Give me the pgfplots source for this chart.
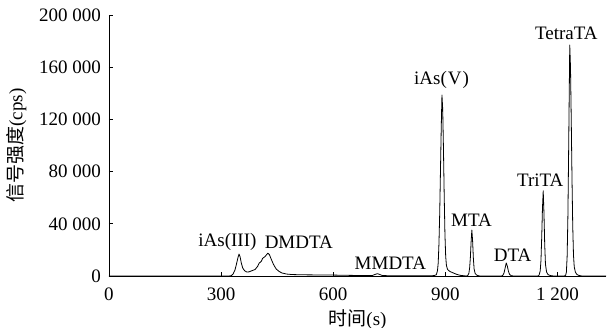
\documentclass[border=0pt]{standalone}
\usepackage{fontspec}
\setmainfont{Liberation Serif}
\newfontfamily\cjk{Noto Sans CJK SC}
\usepackage{pgfplots}
\pgfplotsset{compat=1.18}
\begin{document}
\fontsize{19}{22}\selectfont
\begin{tikzpicture}
\begin{axis}[
  name=ax, scale only axis, width=497pt, height=261pt,
  xmin=0, xmax=1330, ymin=0, ymax=200000,
  axis x line*=bottom, axis y line*=left,
  tick align=inside, major tick length=4pt,
  xtick={0,300,600,900,1200},
  xticklabels={0,300,600,900,1\ 200},
  ytick={0,40000,80000,120000,160000,200000},
  yticklabels={0,40\ 000,80\ 000,120\ 000,160\ 000,200\ 000},
  xticklabel style={yshift=-5pt},
  yticklabel style={xshift=-1.5pt},
  xlabel style={yshift=4pt},
  scaled ticks=false,
  every axis line/.style={line width=0.8pt},
  every tick/.style={line width=0.8pt, black},
  xlabel={{\cjk 时间}(s)},
  ylabel={{\cjk 信号强度}(cps)},
  clip=false,
]
\addplot[black, line width=0.8pt, line join=round] coordinates {
(0,0) (320,0) (327,200) (332,1500) (337,4500) (341,9000) (345,14000) (348,16800)
(351,14500) (354,10000) (358,6000) (363,4000) (369,3000) (375,3200) (382,4000)
(391,5000) (398,7500) (402,10000) (405,10500) (408,11500) (411,13500) (418,15000) (425,17500)
(429,16500) (434,13000) (440,9000) (447,5500) (455,3500) (463,2300) (475,1500)
(490,1100) (520,900) (560,800) (600,700) (640,500) (680,350) (705,400) (712,1200)
(718,1800) (724,1200) (732,300) (760,200) (800,150) (850,100) (870,300) (876,1000)
(879,4000) (881,10000) (883,25000) (885,48000) (887,80000) (889,112000) (891,138700)
(893,128000) (895,98000) (897,62000) (899,32000) (901,15000) (903,8000) (906,5000)
(912,3500) (920,2500) (930,1300) (940,500) (950,200) (956,0) (960,300) (963,2000)
(965,6000) (967,14000) (969,26000) (971,35200) (973,27000) (975,14000) (977,5500)
(980,1800) (985,500) (992,0) (1050,0) (1054,500) (1057,2200) (1060,6000) (1063,10000)
(1066,7500) (1069,3500) (1072,1200) (1076,300) (1082,0) (1148,0) (1151,700)
(1154,4000) (1156,12000) (1158,30000) (1160,52000) (1162,65300) (1164,48000)
(1166,24000) (1168,9000) (1171,3000) (1175,1000) (1182,300) (1190,0) (1218,0)
(1222,500) (1224,3000) (1226,15000) (1228,45000) (1230,95000) (1232,150000)
(1233,177000) (1235,160000) (1237,120000) (1239,75000) (1241,38000) (1243,16000)
(1245,7000) (1248,3000) (1252,1200) (1258,400) (1265,0) (1330,0)
};
\node at (axis cs:317,26000) {iAs(III)};
\node at (axis cs:508,26000) {DMDTA};
\node at (axis cs:753,9700) {MMDTA};
\node at (axis cs:890,150000) {iAs(\kern1pt V\kern1pt)};
\node at (axis cs:970,42900) {MTA};
\node at (axis cs:1080,16100) {DTA};
\node at (axis cs:1154,73600) {TriTA};
\node at (axis cs:1224,186000) {TetraTA};
\end{axis}
\pgfresetboundingbox
\path (-109pt,-52pt) rectangle (499pt,276pt);
\end{tikzpicture}
\end{document}
